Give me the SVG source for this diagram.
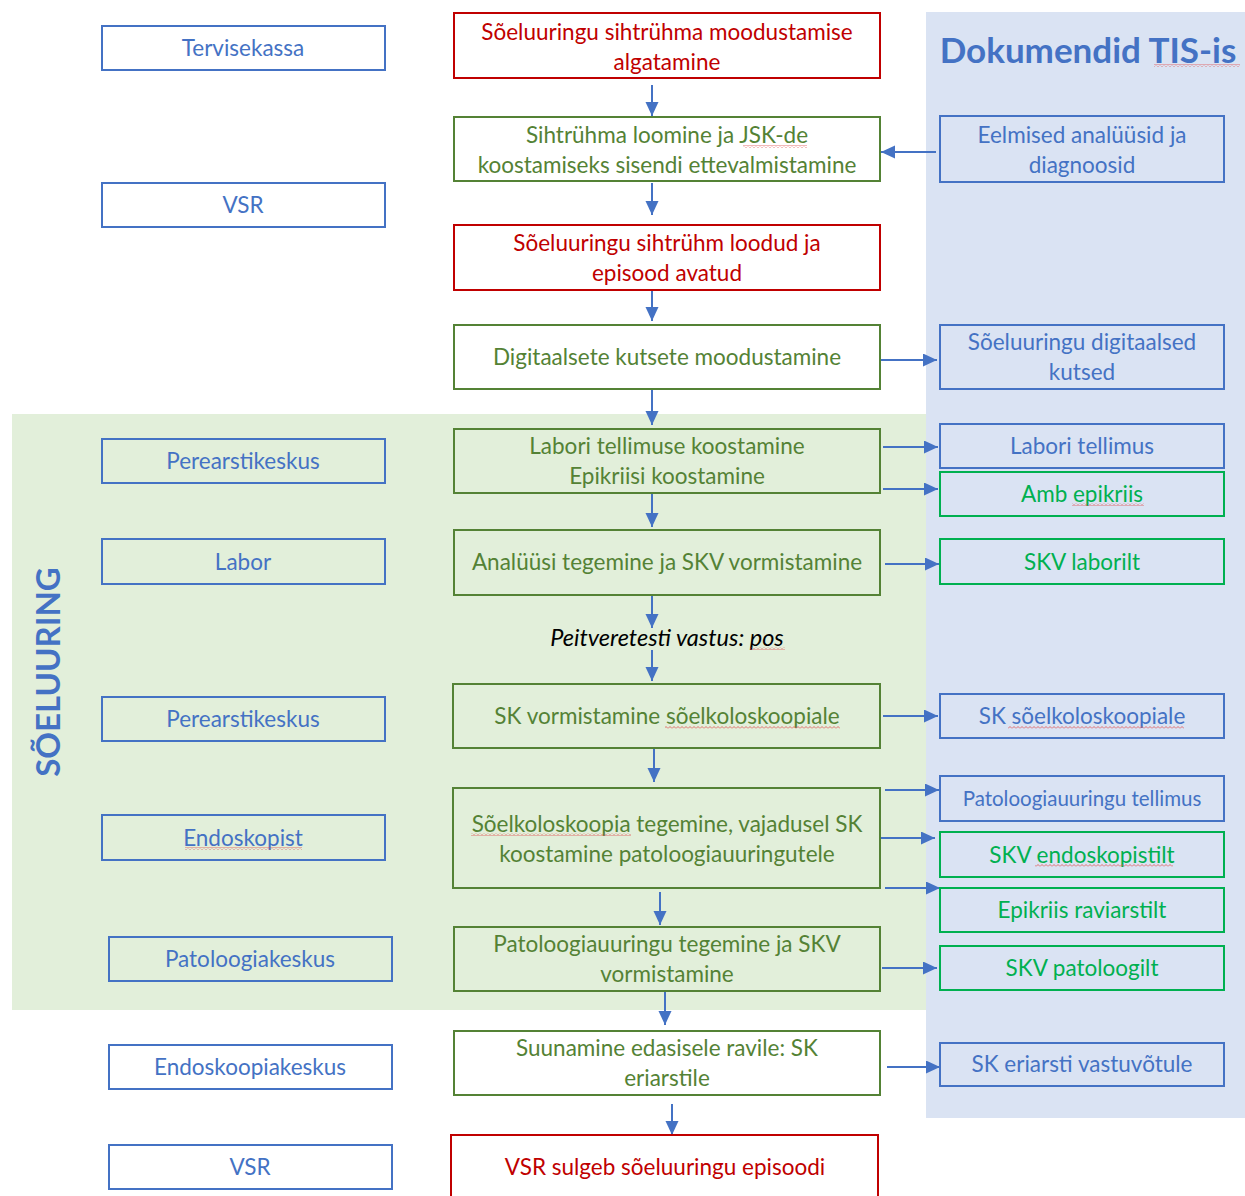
<svg xmlns="http://www.w3.org/2000/svg" width="1245" height="1196" viewBox="0 0 1245 1196">
<defs>
<style>
text{font-family:Lato,"Open Sans","Liberation Sans",sans-serif;font-size:22.5px;text-anchor:middle}
.bx{fill:none;stroke-width:2}
.lb{stroke:#4472C4}
.cg{stroke:#548235}
.cr{stroke:#C00000}
.rg{stroke:#00B050}
.tb{fill:#4472C4}
.tg{fill:#548235}
.tr{fill:#C00000}
.tgg{fill:#00B050}
.ar{stroke:#4472C4;stroke-width:2;fill:none;marker-end:url(#ah)}
.sq{fill:url(#squig)}
</style>
<marker id="ah" markerUnits="userSpaceOnUse" markerWidth="16" markerHeight="14" refX="14" refY="6.5" orient="auto">
<path d="M0,0 L14,6.5 L0,13 Z" fill="#4472C4"/>
</marker>
<pattern id="squig" patternUnits="userSpaceOnUse" width="4" height="3">
<polyline points="0,2.5 2,0.5 4,2.5" fill="none" stroke="#E05050" stroke-width="0.8"/>
</pattern>
</defs>
<rect width="1245" height="1196" fill="#FFFFFF"/>
<rect x="926" y="12" width="319" height="1106" fill="#DAE3F3"/>
<rect x="12" y="414" width="914" height="596" fill="#E2EFDA"/>
<text x="1088" y="63" class="tb" style="font-size:35px;font-weight:bold">Dokumendid TIS-is</text>
<rect x="1154" y="64" width="86" height="3" class="sq"/>
<text transform="translate(60,672) rotate(-90)" class="tb" style="font-size:33px;font-weight:bold">SÕELUURING</text>

<g id="connectors">
<line x1="652" y1="85" x2="652" y2="116" class="ar"/>
<line x1="652" y1="183" x2="652" y2="215" class="ar"/>
<line x1="652" y1="290" x2="652" y2="321" class="ar"/>
<line x1="652" y1="389" x2="652" y2="425" class="ar"/>
<line x1="652" y1="494" x2="652" y2="527" class="ar"/>
<line x1="652" y1="596" x2="652" y2="628" class="ar"/>
<line x1="652" y1="650" x2="652" y2="681" class="ar"/>
<line x1="654" y1="749" x2="654" y2="782" class="ar"/>
<line x1="660" y1="892" x2="660" y2="925" class="ar"/>
<line x1="665" y1="992" x2="665" y2="1025" class="ar"/>
<line x1="672" y1="1104" x2="672" y2="1135" class="ar"/>
<line x1="936" y1="152" x2="881" y2="152" class="ar"/>
<line x1="881" y1="360" x2="937" y2="360" class="ar"/>
<line x1="883" y1="447" x2="938" y2="447" class="ar"/>
<line x1="883" y1="489" x2="938" y2="489" class="ar"/>
<line x1="885" y1="564" x2="939" y2="564" class="ar"/>
<line x1="883" y1="716" x2="938" y2="716" class="ar"/>
<line x1="885" y1="790" x2="939" y2="790" class="ar"/>
<line x1="880" y1="838" x2="935" y2="838" class="ar"/>
<line x1="885" y1="888" x2="940" y2="888" class="ar"/>
<line x1="882" y1="968" x2="937" y2="968" class="ar"/>
<line x1="887" y1="1067" x2="940" y2="1067" class="ar"/>
</g>

<g id="l1"><rect x="102" y="26" width="283" height="44" class="bx lb"/><text x="243" y="56" class="tb">Tervisekassa</text></g>
<g id="l2"><rect x="102" y="183" width="283" height="44" class="bx lb"/><text x="243" y="213" class="tb">VSR</text></g>
<g id="l3"><rect x="102" y="439" width="283" height="44" class="bx lb"/><text x="243" y="469" class="tb">Perearstikeskus</text></g>
<g id="l4"><rect x="102" y="539" width="283" height="45" class="bx lb"/><text x="243" y="570" class="tb">Labor</text></g>
<g id="l5"><rect x="102" y="697" width="283" height="44" class="bx lb"/><text x="243" y="727" class="tb">Perearstikeskus</text></g>
<g id="l6"><rect x="102" y="815" width="283" height="45" class="bx lb"/><text x="243" y="846" class="tb">Endoskopist</text><rect x="185" y="847" width="117" height="3" class="sq"/></g>
<g id="l7"><rect x="109" y="937" width="283" height="44" class="bx lb"/><text x="250" y="967" class="tb">Patoloogiakeskus</text></g>
<g id="l8"><rect x="109" y="1045" width="283" height="44" class="bx lb"/><text x="250" y="1075" class="tb">Endoskoopiakeskus</text></g>
<g id="l9"><rect x="109" y="1145" width="283" height="44" class="bx lb"/><text x="250" y="1175" class="tb">VSR</text></g>

<g id="c1"><rect x="454" y="13" width="426" height="65" fill="#FFFFFF" class="bx cr"/><text x="667" y="40" class="tr">Sõeluuringu sihtrühma moodustamise</text><text x="667" y="70" class="tr">algatamine</text></g>
<g id="c2"><rect x="454" y="117" width="426" height="64" fill="#FFFFFF" class="bx cg"/><text x="667" y="143" class="tg">Sihtrühma loomine ja JSK-de</text><text x="667" y="173" class="tg">koostamiseks sisendi ettevalmistamine</text><rect x="743" y="145" width="64" height="3" class="sq"/></g>
<g id="c3"><rect x="454" y="225" width="426" height="65" fill="#FFFFFF" class="bx cr"/><text x="667" y="251" class="tr">Sõeluuringu sihtrühm loodud ja</text><text x="667" y="281" class="tr">episood avatud</text></g>
<g id="c4"><rect x="454" y="325" width="426" height="64" fill="#FFFFFF" class="bx cg"/><text x="667" y="365" class="tg">Digitaalsete kutsete moodustamine</text></g>
<g id="c5"><rect x="454" y="429" width="426" height="64" class="bx cg"/><text x="667" y="454" class="tg">Labori tellimuse koostamine</text><text x="667" y="484" class="tg">Epikriisi koostamine</text></g>
<g id="c6"><rect x="454" y="530" width="426" height="65" class="bx cg"/><text x="667" y="570" class="tg">Analüüsi tegemine ja SKV vormistamine</text></g>
<g id="p1"><text x="667" y="646" style="font-style:italic;fill:#000000;font-size:23.5px">Peitveretesti vastus: pos</text><rect x="750" y="647" width="35" height="3" class="sq"/></g>
<g id="c7"><rect x="453" y="684" width="427" height="64" class="bx cg"/><text x="667" y="724" class="tg">SK vormistamine sõelkoloskoopiale</text><rect x="665" y="726" width="175" height="3" class="sq"/></g>
<g id="c8"><rect x="453" y="788" width="427" height="100" class="bx cg"/><text x="667" y="832" class="tg">Sõelkoloskoopia tegemine, vajadusel SK</text><text x="667" y="862" class="tg">koostamine patoloogiauuringutele</text><rect x="471" y="833" width="160" height="3" class="sq"/></g>
<g id="c9"><rect x="454" y="927" width="426" height="64" class="bx cg"/><text x="667" y="952" class="tg">Patoloogiauuringu tegemine ja SKV</text><text x="667" y="982" class="tg">vormistamine</text></g>
<g id="c10"><rect x="454" y="1031" width="426" height="64" fill="#FFFFFF" class="bx cg"/><text x="667" y="1056" class="tg">Suunamine edasisele ravile: SK</text><text x="667" y="1086" class="tg">eriarstile</text></g>
<g id="c11"><rect x="451" y="1135" width="427" height="70" fill="#FFFFFF" class="bx cr"/><text x="665" y="1175" class="tr">VSR sulgeb sõeluuringu episoodi</text></g>

<g id="r1"><rect x="940" y="116" width="284" height="66" class="bx lb"/><text x="1082" y="143" class="tb">Eelmised analüüsid ja</text><text x="1082" y="173" class="tb">diagnoosid</text></g>
<g id="r2"><rect x="940" y="325" width="284" height="64" class="bx lb"/><text x="1082" y="350" class="tb">Sõeluuringu digitaalsed</text><text x="1082" y="380" class="tb">kutsed</text></g>
<g id="r3"><rect x="940" y="424" width="284" height="44" class="bx lb"/><text x="1082" y="454" class="tb">Labori tellimus</text></g>
<g id="r4"><rect x="940" y="472" width="284" height="44" class="bx rg"/><text x="1082" y="502" class="tgg">Amb epikriis</text><rect x="1072" y="503" width="72" height="3" class="sq"/></g>
<g id="r5"><rect x="940" y="539" width="284" height="45" class="bx rg"/><text x="1082" y="570" class="tgg">SKV laborilt</text></g>
<g id="r6"><rect x="940" y="694" width="284" height="44" class="bx lb"/><text x="1082" y="724" class="tb">SK sõelkoloskoopiale</text><rect x="1008" y="726" width="176" height="3" class="sq"/></g>
<g id="r7"><rect x="940" y="776" width="284" height="45" class="bx lb"/><text x="1082" y="806" class="tb" style="font-size:20.5px">Patoloogiauuringu tellimus</text></g>
<g id="r8"><rect x="940" y="832" width="284" height="45" class="bx rg"/><text x="1082" y="863" class="tgg">SKV endoskopistilt</text><rect x="1035" y="864" width="138" height="3" class="sq"/></g>
<g id="r9"><rect x="940" y="888" width="284" height="44" class="bx rg"/><text x="1082" y="918" class="tgg">Epikriis raviarstilt</text></g>
<g id="r10"><rect x="940" y="946" width="284" height="44" class="bx rg"/><text x="1082" y="976" class="tgg">SKV patoloogilt</text></g>
<g id="r11"><rect x="940" y="1043" width="284" height="43" class="bx lb"/><text x="1082" y="1072" class="tb">SK eriarsti vastuvõtule</text></g>
</svg>
